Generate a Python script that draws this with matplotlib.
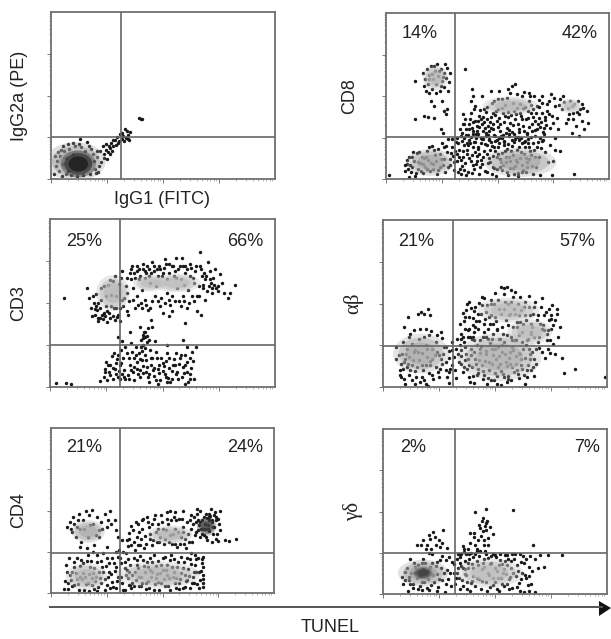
"""
Flow cytometry panels: marker vs TUNEL, quadrant percentages
"""

import numpy as np
import matplotlib
matplotlib.use('Agg')
import matplotlib.pyplot as plt
from matplotlib.patches import Ellipse

plt.rcParams['font.family'] = ['Liberation Sans', 'DejaVu Sans']

# events, channels 0-1000 on both axes
igg_events = [(15,30),(22,75),(28,110),(35,50),(40,140),(48,20),(55,90),(60,165),(68,125),(75,45),(82,180),(90,25),(98,150),(108,195),(115,15),(125,210),(135,190),(145,25),(150,170),(160,220),(172,30),(178,180),(188,150),(195,60),(205,130),(212,40),(218,170),(225,100),(232,195),(238,150),(245,175),(252,120),(258,195),(262,150),(268,215),(272,165),(278,200),(285,235),(290,205),(296,250),(302,225),(308,270),(315,240),(322,260),(328,225),(335,245),(340,290),(345,265),(350,235),(100,215),(130,240),(75,210),(395,368),(400,362),(405,358),
(20,135),(30,160),(45,175),(55,195),(65,30),(170,200),(205,170),(190,105),(215,80),(200,35),(235,125),(245,210),(255,160),(275,235),(265,185),(298,215),(318,275),(330,300),(345,240),(352,280)]
igg_x = [e[0] for e in igg_events]
igg_y = [e[1] for e in igg_events]
cd8_events = [(165,640),(175,600),(182,665),(190,570),(195,625),(200,680),(208,540),(212,600),(218,650),(225,575),(230,690),(235,620),(240,530),(248,660),(252,590),(258,640),(262,555),(270,610),(275,670),(282,585),(288,640),(170,560),(205,630),(222,520),(245,560),(265,690),(180,530),(215,680),(278,530),(195,600),(238,650),(255,615),(192,520),(200,470),(215,440),(250,470),(262,410),(268,390),(272,420),(130,360),(170,380),(190,375),(215,370),(245,300),(255,275),(355,660),(130,590),
(380,470),(385,540),(392,500),(400,440),(395,420),(345,390),(352,330),(360,300),(368,265),(375,360),(385,310),(392,270),(400,350),(410,290),(418,380),(425,250),(432,330),(440,420),(448,280),(455,360),(462,240),(470,310),(478,400),(485,470),(490,260),(498,350),(505,530),(512,290),(520,430),(528,225),(535,380),(542,490),(550,270),(558,340),(565,560),(572,410),(580,240),(588,510),(595,300),(602,450),(610,360),(618,525),(625,230),(632,280),(640,470),(648,400),(655,330),(662,500),(670,260),(678,440),(685,370),(692,250),(700,500),(710,310),(720,410),(730,470),(745,380),(760,440),(770,300),(782,480),(795,500),(805,340),(815,430),(825,470),(838,400),(850,320),(860,470),(872,420),(880,350),(890,300),(900,410),(908,335),(835,280),(815,360),(865,260),(760,250),(700,230),(580,570),(500,480),(470,530),(545,540),(430,500),(640,520),(700,455),(880,450),(740,510),
(85,50),(95,90),(102,130),(110,40),(118,70),(125,110),(130,20),(138,155),(145,60),(152,95),(160,130),(168,35),(175,75),(182,170),(190,115),(198,50),(205,200),(212,90),(220,145),(228,30),(235,180),(242,70),(250,215),(258,120),(265,45),(272,165),(280,240),(288,85),(295,195),(300,140),(305,55),(312,225),(320,110),(328,175),(335,260),(342,80),(350,205),(358,25),(365,150),(372,235),(380,110),(388,190),(395,60),(402,245),(410,140),(418,30),(425,215),(432,90),(440,170),(448,260),(455,45),(462,125),(470,225),(478,75),(485,190),(492,20),(500,150),(508,245),(515,100),(522,55),(530,205),(538,135),(545,25),(552,260),(560,170),(568,65),(575,220),(582,115),(590,35),(598,190),(605,245),(612,85),(620,150),(628,45),(635,215),(642,120),(650,255),(658,30),(665,175),(672,75),(680,225),(688,130),(695,185),(705,235),(715,160),(725,105),(735,205),(750,110),(760,175),(780,170),(690,25),(745,25),(845,30),(15,25),(105,15),
(340,280),(348,245),(356,360),(363,215),(372,300),(381,255),(389,345),(397,225),(406,320),(414,270),(422,415),(430,240),(437,375),(445,310),(452,435),(459,265),(467,345),(474,455),(482,300),(489,385),(496,235),(503,420),(511,330),(518,480),(526,265),(533,445),(541,305),(549,405),(556,520),(564,285),(571,460),(579,360),(586,430),(594,255),(601,395),(609,500),(616,320),(624,435),(631,270),(639,370),(646,500),(654,290),(661,420),(669,350),(676,300),(684,475),(691,315),(699,395),(707,270),(714,355),(722,450),(737,310),(752,490),(767,370),(790,420),(820,390),(845,450),(866,390),(885,430),(840,360),
(320,150),(330,60),(339,230),(346,130),(354,95),(361,175),(369,40),(377,215),(384,145),(391,85),(399,160),(407,110),(414,195),(421,70),(429,245),(436,135),(444,50),(451,205),(459,95),(466,175),(474,30),(481,140),(489,230),(496,60),(504,190),(511,120),(519,250),(526,85),(534,170),(541,40),(549,210),(556,110),(564,235),(571,145),(579,80),(586,175),(594,20),(601,125),(609,215),(616,55),(624,195),(631,100),(639,240),(646,170),(654,80),(85,85),(100,60),(118,135),(135,35),(150,165),(165,90),(180,130),(195,190),(210,60),(225,110),(240,150),(255,85),(270,200),(285,120),(298,240),(310,170),(325,215),(335,30),(345,170),
(333,302),(344,331),(358,268),(371,333),(379,395),(388,288),(403,271),(411,348),(417,312),(426,361),(434,289),(441,343),(449,402),(456,317),(463,290),(471,376),(479,333),(486,268),(493,412),(501,312),(507,367),(515,258),(523,398),(531,341),(538,278),(546,372),(553,298),(561,388),(568,328),(576,270),(583,393),(591,334),(598,283),(606,378),(613,426),(621,292),(628,361),(636,410),(643,311),(651,447),(658,375),(666,295),(673,398),(681,332),(688,432),(696,345),(703,283),(711,372),(719,325),(733,393),(748,338),(775,445),(800,465),(835,440),(855,405),
(324,42),(338,115),(352,55),(366,205),(374,125),(386,35),(394,225),(402,88),(411,180),(419,150),(427,112),(434,238),(442,210),(453,152),(461,235),(468,102),(476,200),(483,65),(491,168),(498,130),(506,218),(513,70),(521,158),(529,228),(536,100),(544,180),(551,135),(558,68),(567,198),(574,30),(581,252),(589,105),(596,232),(604,160),(611,40),(619,225),(626,125),(634,72),(641,190),(649,145),(661,215),(668,132),(676,195),(92,115),(108,85),(122,165),(142,100),(157,50),(172,125),(186,60),(203,95),(216,175),(232,55),(247,120),(262,190),(277,70),(292,155),(306,105),(318,250),(327,130)]
cd8_x = [e[0] for e in cd8_events]
cd8_y = [e[1] for e in cd8_events]
cd3_events = [(60,530),(165,590),(175,530),(180,470),(185,420),(195,500),(205,555),(210,460),(215,395),(225,520),(232,430),(240,600),(248,480),(255,385),(265,635),(272,545),(280,420),(288,660),(295,470),(305,615),(312,390),(320,690),(330,530),(340,650),(348,430),(358,700),(368,590),(378,470),(385,720),(395,640),(405,500),(415,730),(425,680),(435,460),(445,620),(455,745),(465,540),(475,700),(488,480),(498,660),(510,760),(522,560),(535,490),(548,720),(560,650),(572,510),(585,770),(595,610),(608,470),(620,735),(632,540),(645,690),(655,450),(668,805),(680,590),(690,520),(700,745),(712,640),(722,560),(735,700),(745,600),(755,670),(765,620),(775,560),(680,610),(720,590),(745,570),(790,530),(800,560),(822,610),(670,430),(600,380),(530,420),(450,400),(400,360),(355,330),(560,770),(590,720),(420,690),
(285,200),(295,140),(300,300),(305,95),(318,275),(325,170),(335,240),(345,70),(355,130),(365,210),(375,40),(385,105),(400,60),(408,160),(415,250),(420,190),(425,90),(432,305),(438,30),(445,220),(450,130),(455,360),(460,65),(465,275),(475,170),(480,105),(490,40),(500,145),(510,75),(520,200),(530,115),(540,50),(552,165),(565,90),(575,135),(588,60),(600,190),(612,30),(625,115),(635,155),(630,210),(620,75),(590,120),(640,45),(520,30),(480,20),(600,18),(400,100),(420,330),(435,350),(430,270),(415,125),(410,215),(375,175),(360,100),(330,100),(300,60),(315,220),
(25,25),(70,25),(95,20),(220,35),(310,45),(590,280),(520,250),(610,240),(650,240),
(240,60),(245,110),(250,150),(255,40),(262,90),(268,130),(275,185),(282,50),(290,105),(298,165),(310,130),(322,80),(335,45),(350,170),(368,90),(380,240),(388,150),(395,200),(403,280),(412,310),(418,330),(425,160),(430,120),(438,80),(448,175),(458,100),(470,40),(485,130),(500,95),(515,155),(525,55),(545,130),(558,80),(578,170),(595,85),(608,150),(622,50),(560,200),(535,30),
(190,540),(200,430),(215,500),(228,590),(238,440),(250,540),(258,610),(270,480),(282,630),(292,540),(302,430),(314,650),(325,480),(338,600),(350,510),(360,640),(372,680),(385,540),(396,700),(408,580),(420,520),(432,720),(442,660),(452,510),(462,690),(472,600),(484,720),(494,530),(506,710),(518,640),(530,730),(542,540),(555,690),(565,590),(578,720),(590,540),(602,680),(615,580),(628,710),(640,620),(652,540),(665,720),(675,660),(688,640),(698,570),(710,690),(725,650),(738,590),(205,480),(220,410),(245,420),(262,440),(290,400),(340,450),(540,450),(500,440),(580,480),
(198,462),(212,412),(224,472),(236,402),(252,452),(266,408),(284,468),(296,415),(310,470),(322,520),(344,560),(354,680),(366,720),(376,650),(388,690),(400,660),(412,700),(424,650),(438,700),(450,680),(464,720),(478,660),(490,700),(502,680),(516,735),(528,680),(540,720),(552,660),(570,700),(584,640),(598,720),(610,700),(622,660),(636,650),(648,720),(660,600),(672,700),(684,680),(694,660),(706,600),(716,620),(728,610),(368,520),(392,490),(410,470),(428,490),(446,470),(480,510),(512,500),(530,520),(556,510),(596,510),(618,500),(640,510),(662,540),
(244,88),(256,130),(268,70),(278,115),(292,80),(304,190),(316,140),(328,60),(340,200),(352,45),(362,260),(372,120),(382,190),(392,80),(402,165),(412,85),(422,230),(434,60),(442,280),(454,170),(464,115),(472,210),(484,85),(494,175),(506,125),(516,60),(528,175),(542,95),(556,130),(570,50),(582,190),(598,130),(610,90),(624,170),(414,290),(424,300),(406,240)]
cd3_x = [e[0] for e in cd3_events]
cd3_y = [e[1] for e in cd3_events]
ab_events = [(110,420),(155,440),(170,450),(185,440),(200,470),(210,430),(95,360),(120,320),(140,340),(165,350),(190,345),(215,335),(240,310),(260,330),(90,270),(105,230),(115,300),(130,260),(145,220),(160,290),(175,205),(190,250),(205,310),(220,225),(235,270),(250,190),(265,295),(280,240),(295,215),(310,270),(325,230),(60,240),(70,190),(80,140),(90,110),(100,170),(115,70),(130,130),(145,95),(160,160),(175,60),(190,130),(205,85),(220,170),(235,120),(250,60),(265,140),(280,100),(295,175),(310,130),(325,55),(340,150),(60,165),(75,100),(200,5),(295,25),(100,15),(145,15),(190,15),(510,65),(560,45),
(345,380),(350,320),(355,445),(360,270),(365,350),(375,500),(385,420),(390,300),(400,370),(410,480),(420,250),(430,395),(440,540),(450,330),(460,450),(470,285),(480,520),(490,380),(500,560),(510,340),(520,470),(530,250),(540,555),(550,400),(560,495),(570,300),(580,540),(590,440),(600,360),(610,540),(620,270),(630,480),(640,400),(650,545),(660,320),(670,440),(680,510),(690,270),(700,380),(710,530),(720,430),(730,320),(740,470),(750,350),(760,260),(770,400),(775,440),(782,300),(788,360),(525,600),(540,590),(555,600),(570,580),(590,570),(430,505),(385,510),(380,300),(450,530),(405,455),(400,415),(480,430),(470,350),(510,350),(605,430),(660,330),(720,340),(755,490),(740,400),(778,470),(750,410),
(350,220),(365,160),(375,110),(385,60),(395,190),(405,25),(415,135),(425,85),(435,205),(445,50),(455,155),(465,15),(475,100),(485,225),(495,40),(505,170),(515,120),(525,10),(535,75),(545,200),(555,30),(565,140),(575,240),(585,90),(595,185),(605,55),(615,130),(625,230),(635,15),(645,100),(655,165),(665,210),(675,65),(685,135),(695,235),(710,210),(725,175),(735,230),(745,205),(770,200),(405,280),(800,175),(810,85),(855,105),(990,60),
(350,140),(358,90),(368,240),(378,170),(388,30),(398,120),(408,210),(418,70),(428,160),(438,245),(448,95),(458,195),(468,55),(478,265),(488,140),(498,225),(508,20),(518,185),(528,95),(538,270),(548,150),(558,65),(568,210),(578,120),(588,280),(598,100),(608,205),(618,170),(628,70),(638,250),(648,130),(658,195),(668,120),
(355,300),(368,420),(378,340),(392,475),(402,300),(412,360),(422,440),(432,280),(442,490),(452,380),(462,300),(472,420),(482,500),(492,320),(502,420),(512,520),(522,290),(532,360),(542,470),(552,310),(562,430),(572,510),(582,360),(592,280),(602,500),(612,390),(622,330),(632,430),(642,280),(652,480),(662,380),(672,300),(692,430),(712,350),(732,280),(752,430),
(75,70),(85,200),(95,50),(105,120),(118,180),(128,40),(138,210),(150,120),(165,30),(178,100),(185,300),(198,180),(212,130),(225,50),(240,210),(255,110),(270,200),(285,60),(300,110),(315,180),(330,290),(342,250),
(348,290),(362,395),(372,460),(386,345),(396,290),(408,330),(416,395),(426,350),(436,440),(446,300),(456,410),(466,490),(476,380),(486,290),(496,500),(506,395),(516,290),(526,440),(536,320),(546,510),(556,370),(566,440),(576,280),(586,470),(596,390),(606,310),(616,460),(626,380),(636,510),(646,290),(656,430),(666,360),(676,480),(686,400),(696,300),(706,480),(716,370),(726,450),(736,340),(746,280),(760,370),(350,185),(362,120),(372,200),(382,130),(392,230),(402,65),(412,170),(422,110),(432,230),(442,130),(452,70),(462,215),(472,150),(482,40),(492,190),(502,85),(512,240),(522,140),(532,210),(542,60),(552,125),(562,175),(572,40),(582,220),(592,140),(602,80),(612,200),(622,110),(632,175),(642,60),(652,230),(662,100),(672,170),(682,225),(80,60),(92,150),(102,200),(112,140),(122,100),(135,160),(148,60),(158,210),(172,130),(182,40),(196,230),(208,155),(218,70),(232,190),(246,90),(258,170),(272,240),(282,150),(294,90),(306,220),(320,100),(335,200)]
ab_x = [e[0] for e in ab_events]
ab_y = [e[1] for e in ab_events]
cd4_events = [(70,400),(85,430),(95,370),(100,460),(110,340),(115,400),(125,480),(135,310),(145,440),(155,495),(165,340),(175,410),(185,505),(195,290),(205,460),(215,380),(225,430),(240,480),(250,400),(265,500),(130,280),(160,270),(190,250),(285,440),(290,380),(300,340),
(60,25),(75,60),(85,110),(95,40),(105,155),(115,85),(125,20),(135,200),(145,120),(155,55),(165,230),(175,160),(185,90),(195,25),(205,190),(215,125),(225,60),(235,240),(245,165),(255,100),(265,30),(275,210),(285,135),(295,70),(305,260),(315,180),(325,20),(335,110),(345,285),(345,205),(320,320),(290,250),(250,280),
(330,20),(345,90),(355,170),(365,60),(375,130),(385,200),(395,40),(405,100),(415,165),(425,25),(435,75),(445,140),(455,190),(465,55),(475,115),(485,20),(495,170),(505,85),(515,140),(525,40),(535,200),(545,100),(555,60),(565,155),(575,25),(585,120),(595,190),(605,70),(615,145),(625,30),(635,100),(645,170),(655,55),(665,125),(675,205),(680,35),(682,85),(170,15),(205,10),(630,240),(645,230),(680,160),(683,110),(680,60),(682,220),
(340,320),(348,365),(360,290),(368,380),(376,260),(384,340),(392,420),(400,290),(408,385),(416,270),(420,345),(408,440),(430,460),(438,400),(446,330),(454,290),(462,450),(470,370),(478,420),(486,310),(494,470),(502,390),(510,330),(518,490),(526,420),(534,350),(542,300),(550,460),(558,390),(566,280),(574,450),(582,340),(590,400),(598,300),(606,270),(614,360),(622,440),(630,470),(638,420),(646,350),(654,480),(662,410),(670,500),(678,440),(686,350),(694,480),(702,390),(710,440),(718,510),(726,400),(730,470),(738,330),(746,360),(754,420),(756,495),(742,460),(710,480),(654,510),(590,500),(558,490),(534,500),
(700,320),(720,310),(750,315),(780,322),(800,318),(830,325),
(680,390),(690,420),(700,455),(710,375),(720,430),(730,400),(670,430),(685,460),(695,340),(715,465),(705,410),(725,360),(740,440),(675,360),(660,380),(650,430),
(62,70),(70,130),(78,25),(90,80),(102,190),(112,120),(122,55),(132,165),(140,85),(150,20),(162,195),(172,115),(182,50),(192,150),(202,100),(212,35),(222,195),(232,130),(242,20),(252,215),(262,125),(272,65),(282,180),(292,30),(302,220),(312,100),(322,250),(332,190),(340,140),(348,50),
(350,130),(360,30),(370,210),(380,80),(390,150),(400,225),(410,60),(420,130),(430,190),(440,30),(450,100),(460,230),(470,165),(480,65),(490,120),(500,210),(510,45),(520,170),(530,90),(540,230),(550,130),(560,30),(570,190),(580,85),(590,150),(600,35),(610,215),(620,105),(630,175),(640,60),(650,130),(660,210),(670,80),(678,180),
(90,390),(105,420),(120,440),(130,390),(150,390),(170,470),(190,420),(200,350),(215,340),(230,390),(255,440),(270,420),
(352,330),(358,405),(372,310),(380,430),(388,290),(396,370),(404,330),(412,450),(424,300),(434,430),(442,360),(452,420),(458,320),(466,470),(474,310),(482,390),(490,340),(498,430),(506,300),(514,380),(522,450),(530,310),(538,440),(546,360),(554,300),(562,440),(570,370),(578,300),(586,450),(594,370),(602,330),(610,430),(618,310),(626,390),(634,310),(642,460),(650,370),(658,440),(666,340),(674,390),(690,390),(708,460),(724,440),(736,490),(748,450),(760,380),(354,50),(364,110),(374,40),(384,170),(394,100),(402,40),(414,200),(424,60),(434,160),(444,210),(454,130),(462,20),(472,90),(482,195),(492,60),(502,140),(512,220),(522,110),(532,20),(544,160),(552,205),(562,90),(572,60),(582,220),(592,30),(602,110),(612,80),(622,205),(632,60),(642,130),(652,205),(662,30),(672,135),(68,170),(80,210),(92,130),(104,50),(118,210),(130,95),(142,180),(154,100),(168,60),(178,195),(188,120),(198,70),(208,230),(218,90),(228,155),(240,85),(250,50),(260,180),(270,115),(280,35),(290,160),(300,100),(310,210),(320,60),(330,150),(338,240)]
cd4_x = [e[0] for e in cd4_events]
cd4_y = [e[1] for e in cd4_events]
gd_events = [(85,105),(115,85),(110,20),(125,130),(135,60),(145,165),(155,30),(165,110),(175,185),(185,75),(195,140),(205,25),(215,55),(225,115),(235,170),(245,40),(255,205),(265,85),(275,15),(285,145),(295,225),(305,50),(315,180),(325,100),(335,240),(345,30),(355,160),(365,200),(375,70),(255,285),(345,240),(120,215),(180,215),(150,300),(205,250),(215,275),(235,300),(180,330),(195,300),(210,335),(230,345),(250,330),(265,310),(225,375),(270,390),(285,280),(170,295),(205,360),(390,370),
(320,60),(330,130),(342,190),(350,240),(358,290),(368,150),(375,30),(382,215),(388,310),(398,80),(408,345),(418,270),(428,420),(436,350),(440,440),(446,380),(452,300),(458,430),(465,445),(470,340),(478,405),(420,260),(400,225),(405,370),(450,330),(462,390),(490,365),(409,500),(458,515),(580,510),(430,230),(445,190),(455,260),(468,220),(478,180),(490,240),(500,70),(510,140),(518,20),(525,100),(532,180),(540,50),(548,120),(555,235),(562,90),(570,160),(578,35),(585,215),(592,110),(600,175),(606,65),(612,240),(620,130),(628,190),(640,95),(650,165),(658,230),(665,140),(660,60),(680,215),(700,235),(668,295),(735,238),(800,238),(720,165),(690,160),(610,20),(630,15),(650,20),(680,15),
(330,210),(340,100),(348,170),(356,50),(364,120),(372,240),(380,160),(390,20),(396,180),(404,110),(412,50),(420,200),(428,90),(436,30),(444,150),(452,215),(460,70),(468,130),(476,40),(484,190),(492,100),(500,235),(508,30),(516,175),(524,240),(534,130),(544,200),(552,60),(560,215),(568,105),(576,240),(596,40),(616,195),(636,115),(648,55),
(395,250),(412,300),(425,330),(435,400),(445,460),(455,410),(470,295),(380,270),(360,255),(100,135),(120,60),(140,190),(150,100),(165,50),(180,150),(200,90),(220,190),(240,120),(260,160),(280,60),(300,130),(190,270),(220,240),
(336,155),(344,225),(352,85),(362,270),(370,115),(378,190),(386,245),(394,65),(402,155),(410,240),(418,95),(426,175),(434,260),(442,80),(450,165),(458,240),(466,20),(474,115),(482,230),(490,55),(498,160),(506,225),(514,95),(522,205),(530,60),(538,150),(546,235),(554,175),(564,30),(572,200),(582,125),(590,240),(604,140),(614,90),(626,230),(640,210),(652,110),(96,85),(108,155),(118,105),(132,35),(144,130),(158,175),(172,70),(188,190),(198,35),(212,165),(228,70),(242,195),(252,90),(262,230),(272,125),(282,205),(292,90),(306,195),(318,130),(90,60),(175,25),(240,20)]
gd_x = [e[0] for e in gd_events]
gd_y = [e[1] for e in gd_events]

# density centres of each population: x, y, width, height, gray level
igg_blobs = [(110,105,215,185,0.6),(122,90,125,130,0.05)]
cd8_blobs = [(221,610,90,120,0.7),(199,100,170,130,0.65),(602,100,260,140,0.65),(558,440,200,90,0.7),(827,440,80,70,0.75)]
cd3_blobs = [(280,560,120,170,0.7),(444,619,120,80,0.72),(563,619,170,90,0.72)]
ab_blobs = [(170,200,200,190,0.66),(520,180,300,230,0.68),(560,460,220,120,0.72),(655,330,160,120,0.72)]
cd4_blobs = [(167,373,120,110,0.66),(160,100,150,130,0.7),(534,353,160,90,0.7),(480,110,300,130,0.7),(698,404,70,90,0.25)]
gd_blobs = [(179,127,180,130,0.62),(179,127,70,60,0.2),(476,127,240,140,0.72)]

# quadrant gates
igg_gate = (312, 251)
cd8_gate = (309, 253)
cd3_gate = (311, 250)
ab_gate = (312, 245)
cd4_gate = (309, 242)
gd_gate = (321, 248)

# percentage labels: text, pixel x, then pixel y for the panel
cd8_pct = ('14%', 420, '42%', 580, 34)
cd3_pct = ('25%', 84, '66%', 245, 241)
ab_pct = ('21%', 416, '57%', 577, 241)
cd4_pct = ('21%', 84, '24%', 245, 447)
gd_pct = ('2%', 413, '7%', 587, 448)

# panels: y label, pixel box left, right, top, bottom, y label x
panels = [
    ('IgG2a (PE)', None, igg_x, igg_y, igg_blobs, igg_gate, (51, 275, 12, 179), 20),
    ('CD8', cd8_pct, cd8_x, cd8_y, cd8_blobs, cd8_gate, (386, 609, 13, 179), 350),
    ('CD3', cd3_pct, cd3_x, cd3_y, cd3_blobs, cd3_gate, (50, 275, 219, 387), 19),
    ('\u03b1\u03b2', ab_pct, ab_x, ab_y, ab_blobs, ab_gate, (383, 607, 220, 387), 353),
    ('CD4', cd4_pct, cd4_x, cd4_y, cd4_blobs, cd4_gate, (51, 274, 428, 593), 19),
    ('\u03b3\u03b4', gd_pct, gd_x, gd_y, gd_blobs, gd_gate, (383, 607, 429, 594), 353),
]

W, H = 611, 639
fig = plt.figure(figsize=(W / 100, H / 100), dpi=100)

# log decades for the tick marks
decades = np.arange(4)
minor = np.concatenate([(d + np.log10(np.arange(2, 10))) * 250 for d in decades])
major = decades * 250

for label, pct, xs, ys, blobs, gate, box, label_x in panels:
    l, r, t, b = box
    ax = fig.add_axes([l / W, 1 - b / H, (r - l) / W, (b - t) / H])
    ax.set_xlim(0, 1000)
    ax.set_ylim(0, 1000)

    # soft gray cores over the dots
    for cx, cy, w, h, g in blobs:
        for scale, alpha in [(1.25, 0.3), (1.0, 0.45), (0.7, 0.6)]:
            ax.add_patch(Ellipse((cx, cy), w * scale, h * scale, color=str(g),
                                 alpha=alpha, lw=0, zorder=3))
    ax.scatter(xs, ys, s=6, c='#181818', linewidths=0, zorder=2)

    ax.axvline(gate[0], color='#666666', lw=1.2, zorder=4)
    ax.axhline(gate[1], color='#666666', lw=1.2, zorder=4)

    for s in ax.spines.values():
        s.set_color('#707070')
        s.set_linewidth(1.3)
    ax.set_xticks(major)
    ax.set_yticks(major)
    ax.set_xticks(minor, minor=True)
    ax.set_yticks(minor, minor=True)
    ax.tick_params(which='major', length=3, width=0.7, color='#777777',
                   labelbottom=False, labelleft=False)
    ax.tick_params(which='minor', length=1.5, width=0.5, color='#999999')

    if pct:
        fig.text(pct[1] / W, 1 - pct[4] / H, pct[0], ha='center', va='center',
                 fontsize=13, color='#222222')
        fig.text(pct[3] / W, 1 - pct[4] / H, pct[2], ha='center', va='center',
                 fontsize=13, color='#222222')

    serif = label[0] in '\u03b1\u03b3'
    fig.text(label_x / W, 1 - (t + b) / 2 / H, label, rotation=90, ha='center', va='center',
             fontsize=15 if serif else 13, color='#222222',
             family='Liberation Serif' if serif else None)

fig.text(162 / W, 1 - 199 / H, 'IgG1 (FITC)', ha='center', va='center', fontsize=13, color='#222222')
fig.text(330 / W, 1 - 627 / H, 'TUNEL', ha='center', va='center', fontsize=13, color='#222222')

# TUNEL arrow across the bottom
bg = fig.add_axes([0, 0, 1, 1], zorder=-1)
bg.set_xlim(0, W)
bg.set_ylim(H, 0)
bg.axis('off')
bg.plot([50, 602], [607, 607], color='#555555', lw=1.4)
bg.fill([599, 611, 599], [601, 608, 616], color='#111111', lw=0)

plt.savefig('out.png', dpi=100)
